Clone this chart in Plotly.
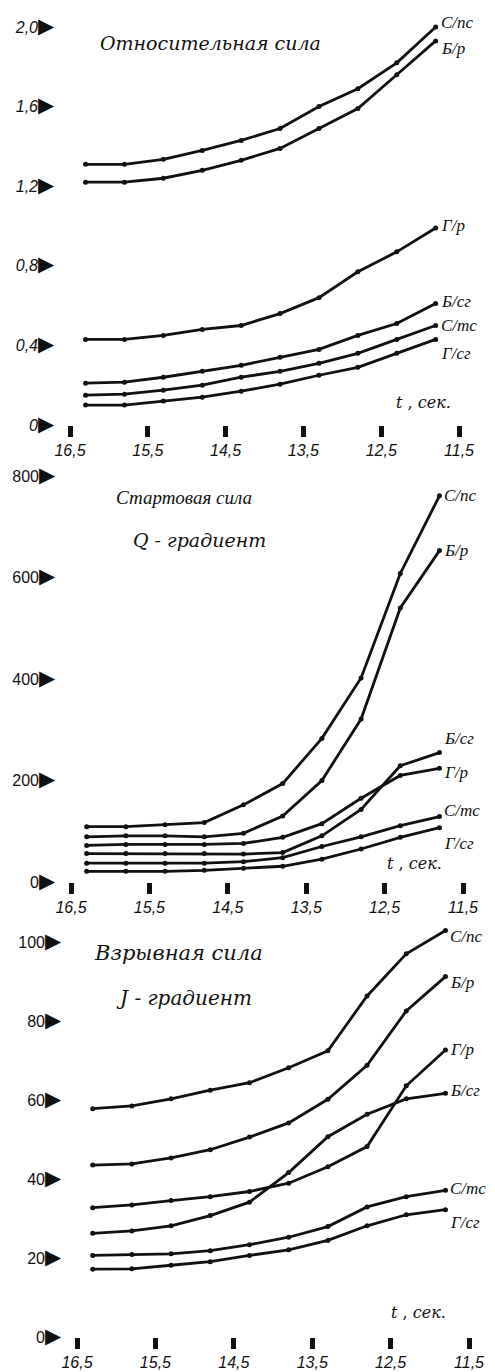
import plotly.graph_objects as go

# ---- data ----
T = [16.3, 15.8, 15.3, 14.8, 14.3, 13.8, 13.3, 12.8, 12.3, 11.8]
x_tick_vals = [16.5, 15.5, 14.5, 13.5, 12.5, 11.5]
x_tick_text = ["16,5", "15,5", "14,5", "13,5", "12,5", "11,5"]

series_names = ["С/пс", "Б/р", "Г/р", "Б/сг", "С/тс", "Г/сг"]

# Panel 1: relative force
rel_S_ps = [1.31, 1.31, 1.335, 1.38, 1.43, 1.49, 1.60, 1.69, 1.82, 2.00]
rel_B_r = [1.22, 1.22, 1.24, 1.28, 1.33, 1.39, 1.49, 1.59, 1.76, 1.93]
rel_G_r = [0.43, 0.43, 0.45, 0.48, 0.50, 0.56, 0.64, 0.77, 0.87, 0.99]
rel_B_sg = [0.21, 0.215, 0.24, 0.27, 0.30, 0.34, 0.38, 0.45, 0.51, 0.61]
rel_S_ts = [0.15, 0.155, 0.175, 0.20, 0.24, 0.27, 0.31, 0.36, 0.43, 0.50]
rel_G_sg = [0.10, 0.10, 0.12, 0.14, 0.17, 0.205, 0.25, 0.29, 0.36, 0.43]
rel_ticks = [0, 0.4, 0.8, 1.2, 1.6, 2.0]
rel_tick_text = ["0", "0,4", "0,8", "1,2", "1,6", "2,0"]

# Panel 2: starting force (Q-gradient)
st_S_ps = [109, 109, 113, 117, 152, 194, 283, 402, 608, 761]
st_B_r = [89, 91, 91, 89, 96, 130, 200, 321, 540, 653]
st_G_r = [72, 74, 74, 74, 76, 88, 115, 165, 210, 224]
st_B_sg = [56, 56, 56, 56, 55, 58, 91, 143, 229, 255]
st_S_ts = [37, 37, 37, 37, 40, 48, 70, 89, 111, 129]
st_G_sg = [21, 21, 21, 23, 27, 31, 45, 65, 88, 107]
st_ticks = [0, 200, 400, 600, 800]
st_tick_text = ["0", "200", "400", "600", "800"]

# Panel 3: explosive force (J-gradient)
ex_S_ps = [57.9, 58.6, 60.4, 62.6, 64.5, 68.3, 72.6, 86.5, 97.2, 103.1]
ex_B_r = [43.6, 43.9, 45.4, 47.5, 50.7, 54.3, 60.3, 68.9, 82.7, 91.4]
ex_G_r = [32.8, 33.5, 34.6, 35.6, 36.9, 39.0, 43.2, 48.3, 63.7, 72.8]
ex_B_sg = [26.3, 26.9, 28.2, 30.8, 34.2, 41.7, 50.8, 56.5, 60.4, 61.8]
ex_S_ts = [20.7, 20.9, 21.1, 21.9, 23.4, 25.3, 28.0, 33.0, 35.6, 37.2]
ex_G_sg = [17.2, 17.3, 18.2, 19.1, 20.7, 22.1, 24.5, 28.2, 31.0, 32.3]
ex_ticks = [0, 20, 40, 60, 80, 100]
ex_tick_text = ["0", "20", "40", "60", "80", "100"]

# page is offset by the default 8px body margin
OFF = 8
W, H = 495 - OFF, 1372 - OFF


def px_x(x):
    return (x - OFF) / W


def px_y(y):
    return 1 - (y - OFF) / H


def ydom(y_bottom_px, y_top_px):
    return [px_y(y_bottom_px), px_y(y_top_px)]


def xdom(x_left_px, x_right_px):
    return [px_x(x_left_px), px_x(x_right_px)]


panels = [
    dict(series=[rel_S_ps, rel_B_r, rel_G_r, rel_B_sg, rel_S_ts, rel_G_sg],
         ticks=rel_ticks, ticktext=rel_tick_text, italic=True,
         yrange=[0, 2.0], ydom=ydom(425, 27), xdom=xdom(70, 459),
         label_shift=[4, -8, 2, 2, 0, -14],
         titles=[("Относительная сила", 210, 43, 19, "DejaVu Serif")],
         tlabel=(423, 403)),
    dict(series=[st_S_ps, st_B_r, st_G_r, st_B_sg, st_S_ts, st_G_sg],
         ticks=st_ticks, ticktext=st_tick_text, italic=False,
         yrange=[0, 800], ydom=ydom(882, 476), xdom=xdom(71, 463),
         label_shift=[0, 0, -4, 14, 6, -16],
         titles=[("Стартовая сила", 184, 497, 19, "Liberation Serif"),
                 ("Q - градиент", 199, 540, 19, "DejaVu Serif")],
         tlabel=(414, 863)),
    dict(series=[ex_S_ps, ex_B_r, ex_G_r, ex_B_sg, ex_S_ts, ex_G_sg],
         ticks=ex_ticks, ticktext=ex_tick_text, italic=False,
         yrange=[0, 105], ydom=ydom(1337, 923), xdom=xdom(77, 469),
         label_shift=[-6, -6, 0, 3, 2, -13],
         titles=[("Взрывная сила", 178, 953, 21, "DejaVu Serif"),
                 ("J - градиент", 184, 998, 20, "DejaVu Serif")],
         tlabel=(418, 1312)),
]

fig = go.Figure()
layout = dict(width=W, height=H, margin=dict(l=0, r=0, t=0, b=0, pad=0),
              paper_bgcolor="white", plot_bgcolor="white", showlegend=False)
annotations = []
ARROW = '<span style="font-size:21px">▶</span>'

for i, p in enumerate(panels):
    n = "" if i == 0 else str(i + 1)
    xa, ya = "x" + n, "y" + n
    for name, vals, shift in zip(series_names, p["series"], p["label_shift"]):
        fig.add_trace(go.Scatter(
            x=T, y=vals, xaxis=xa, yaxis=ya, mode="lines+markers",
            line=dict(color="#111", width=2.8),
            marker=dict(color="#111", size=5), cliponaxis=False, name=name))
        annotations.append(dict(
            x=T[-1], y=vals[-1], xref=xa, yref=ya, text="<i>" + name + "</i>",
            showarrow=False, xanchor="left", yanchor="middle", xshift=3, yshift=shift,
            font=dict(family="Liberation Serif", size=17, color="#111")))
    layout["xaxis" + n] = dict(
        domain=p["xdom"], anchor=ya, range=[16.5, 11.5], automargin=False,
        tickvals=x_tick_vals, ticktext=["<i>" + t + "</i>" for t in x_tick_text],
        ticks="outside", ticklen=11, tickwidth=5, tickcolor="#111",
        showline=False, showgrid=False, zeroline=False,
        tickfont=dict(family="Liberation Sans", size=16, color="#111"))
    tt = [("<i>" + t + "</i>" if p["italic"] else t) + ARROW for t in p["ticktext"]]
    layout["yaxis" + n] = dict(
        domain=p["ydom"], anchor=xa, range=p["yrange"], automargin=False,
        tickvals=p["ticks"], ticktext=tt, ticks="",
        ticklabelstandoff=15,
        showline=False, showgrid=False, zeroline=False,
        tickfont=dict(family="Liberation Sans", size=16, color="#111"))
    for text, px, py, fs, fam in p["titles"]:
        annotations.append(dict(
            x=px_x(px), y=px_y(py), xref="paper", yref="paper",
            text="<i>" + text + "</i>", showarrow=False,
            xanchor="center", yanchor="middle",
            font=dict(family=fam, size=fs, color="#111")))
    tx, ty = p["tlabel"]
    annotations.append(dict(
        x=px_x(tx), y=px_y(ty), xref="paper", yref="paper",
        text="<i>t</i> , <i>сек.</i>", showarrow=False,
        xanchor="center", yanchor="middle",
        font=dict(family="DejaVu Serif", size=16, color="#111")))

layout["annotations"] = annotations
fig.update_layout(**layout)
fig.write_html("out.html")
